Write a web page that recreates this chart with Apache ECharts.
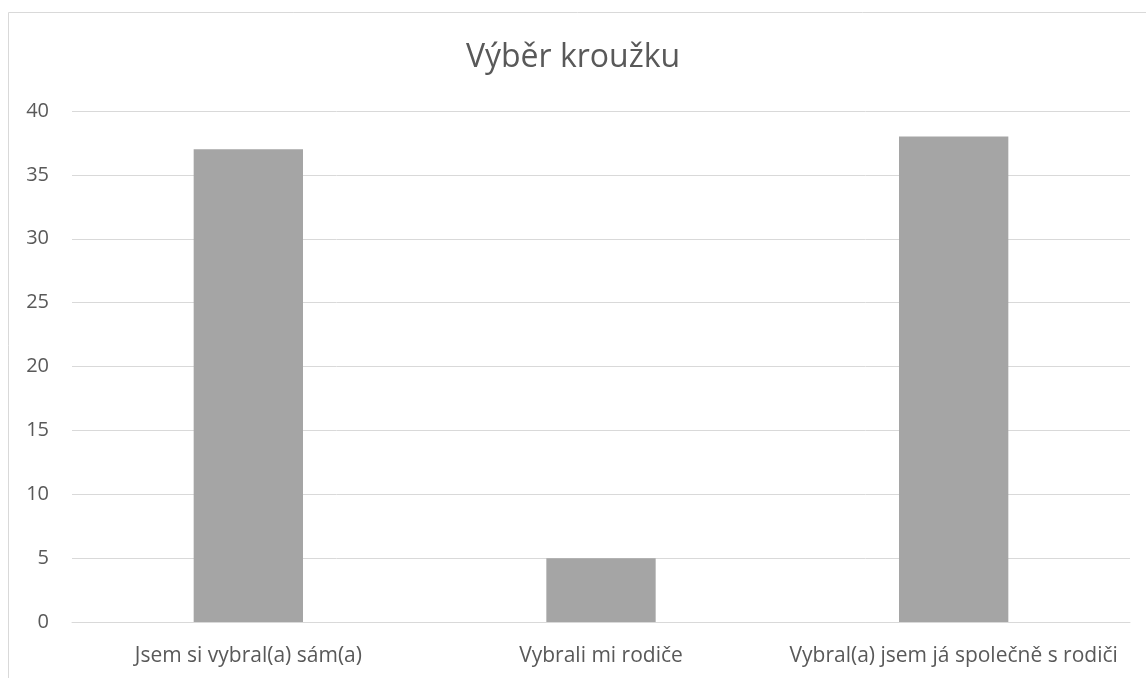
<!DOCTYPE html>
<html lang="cs">
<head>
    <meta charset="UTF-8">
    <title>Výběr kroužku</title>
    <script src="https://cdn.jsdelivr.net/npm/echarts@6/dist/echarts.min.js"></script>
    <style>
        html, body { margin: 0; padding: 0; background: #fff; }
        #chart { width: 1146px; height: 678px; }
    </style>
</head>
<body>
    <div id="chart"></div>
    <script>
        const categories = ['Jsem si vybral(a) sám(a)', 'Vybrali mi rodiče', 'Vybral(a) jsem já společně s rodiči'];
        const values = [37, 5, 38];

        const chart = echarts.init(document.getElementById('chart'));
        const font = 'Open Sans, sans-serif';

        chart.setOption({
            animation: false,
            title: {
                text: 'Výběr kroužku',
                left: 'center',
                top: 37,
                textStyle: { fontFamily: font, fontSize: 32, fontWeight: 'normal', color: '#595959' }
            },
            graphic: [{
                type: 'rect',
                shape: { x: 8.5, y: 12.5, width: 1200, height: 700 },
                style: { fill: 'none', stroke: '#d9d9d9', lineWidth: 1 },
                silent: true
            }],
            grid: { left: 72, right: 16, top: 111, bottom: 56, containLabel: false },
            xAxis: {
                type: 'category',
                data: categories,
                axisLine: { lineStyle: { color: '#d9d9d9', width: 1 } },
                axisTick: { show: false },
                axisLabel: { fontFamily: font, fontSize: 21, color: '#595959', margin: 24, interval: 0 }
            },
            yAxis: {
                type: 'value',
                min: 0, max: 40, interval: 5,
                axisLine: { show: false },
                axisTick: { show: false },
                splitLine: { lineStyle: { color: '#d9d9d9', width: 1 } },
                axisLabel: { fontFamily: font, fontSize: 20, color: '#595959', margin: 23 }
            },
            series: [{
                type: 'bar',
                data: values,
                barWidth: '31%',
                itemStyle: { color: '#a5a5a5' }
            }]
        });
    </script>
</body>
</html>
